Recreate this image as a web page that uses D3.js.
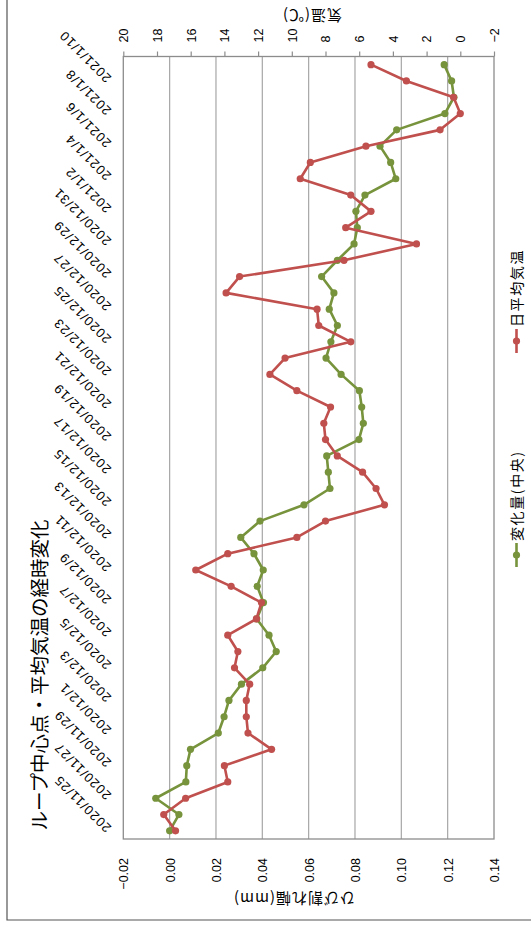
<!DOCTYPE html>
<html>
<head>
<meta charset="utf-8">
<script src="https://cdn.jsdelivr.net/npm/d3@7"></script>
<style>
  html, body { margin: 0; padding: 0; background: #fff; }
  svg { display: block; }
  .num { font-family: "Liberation Sans", Arial, sans-serif; fill: #000; }
  .jp { font-family: "Noto Sans CJK JP", "Noto Sans", sans-serif; fill: #000; }
</style>
</head>
<body>
<div id="chart"></div>
<script>
// Crack width at loop centre vs daily mean temperature (chart rotated 90 deg CCW).

const dates = [
  "2020/11/24", "2020/11/25", "2020/11/26", "2020/11/27", "2020/11/28", "2020/11/29", "2020/11/30",
  "2020/12/1", "2020/12/2", "2020/12/3", "2020/12/4", "2020/12/5", "2020/12/6", "2020/12/7",
  "2020/12/8", "2020/12/9", "2020/12/10", "2020/12/11", "2020/12/12", "2020/12/13", "2020/12/14",
  "2020/12/15", "2020/12/16", "2020/12/17", "2020/12/18", "2020/12/19", "2020/12/20", "2020/12/21",
  "2020/12/22", "2020/12/23", "2020/12/24", "2020/12/25", "2020/12/26", "2020/12/27", "2020/12/28",
  "2020/12/29", "2020/12/30", "2020/12/31", "2021/1/1", "2021/1/2", "2021/1/3", "2021/1/4",
  "2021/1/5", "2021/1/6", "2021/1/7", "2021/1/8", "2021/1/9", "2021/1/10"
];

// 変化量(中央), mm
const crack = [
  0.000, 0.004, -0.006, 0.007, 0.0074, 0.009, 0.021, 0.0235, 0.0256, 0.031, 0.0402, 0.046,
  0.0429, 0.0376, 0.0405, 0.0378, 0.0404, 0.0364, 0.0307, 0.039, 0.058, 0.0692, 0.0685, 0.0678,
  0.0817, 0.0836, 0.0829, 0.0819, 0.074, 0.0675, 0.0696, 0.0724, 0.0689, 0.0709, 0.0656, 0.0724,
  0.0796, 0.081, 0.0804, 0.0843, 0.0976, 0.0954, 0.0908, 0.098, 0.1188, 0.1227, 0.1217, 0.1185
];

// 日平均気温, deg C
const temp = [
  16.9, 17.6, 16.3, 13.8, 14.0, 11.2, 12.6, 12.7, 12.7, 12.5, 13.4, 13.2,
  13.8, 12.1, 11.8, 13.6, 15.7, 13.8, 9.7, 8.0, 4.5, 5.0, 5.8, 7.3,
  8.0, 8.1, 7.7, 9.7, 11.3, 10.4, 6.5, 8.4, 8.5, 13.9, 13.1, 6.9,
  2.6, 6.8, 5.3, 6.5, 9.5, 8.9, 5.6, 1.2, 0.0, 0.4, 3.2, 5.3
];

const mmTicks = [-0.02, 0, 0.02, 0.04, 0.06, 0.08, 0.10, 0.12, 0.14];
const tempTicks = [20, 18, 16, 14, 12, 10, 8, 6, 4, 2, 0, -2];

const GREEN = "#77933C", RED = "#C0504D";
const W = 531, H = 931;
const P = { l: 123.3, r: 494, t: 56.5, b: 839 };

const svg = d3.select("#chart").append("svg").attr("width", W).attr("height", H);

// outer chart frame (only left + bottom edges fall inside the picture)
svg.append("path").attr("d", `M7,0V920H${W}`).attr("fill", "none").attr("stroke", "#555").attr("stroke-width", 1.2);

const y = d3.scaleBand().domain(dates).range([P.b, P.t]);
const cy = (d) => y(d) + y.bandwidth() / 2;
const xMm = d3.scaleLinear().domain([-0.02, 0.14]).range([P.l, P.r]);
const xT = d3.scaleLinear().domain([20, -2]).range([P.l, P.r]);

// gridlines from the mm axis
svg.append("g").selectAll("line").data(mmTicks.slice(1, -1)).join("line")
  .attr("x1", (d) => xMm(d)).attr("x2", (d) => xMm(d))
  .attr("y1", P.t).attr("y2", P.b)
  .attr("stroke", "#a6a6a6").attr("stroke-width", 1.2);

svg.append("rect").attr("x", P.l).attr("y", P.t).attr("width", P.r - P.l).attr("height", P.b - P.t)
  .attr("fill", "none").attr("stroke", "#8c8c8c").attr("stroke-width", 1.3);

// bottom axis: crack width
const gB = svg.append("g").attr("transform", `translate(0,${P.b})`)
  .call(d3.axisBottom(xMm).tickValues(mmTicks).tickSize(0).tickFormat(d3.format(".2f")));
gB.select(".domain").remove();
gB.selectAll("text").attr("class", "num").style("font-size", "12.5px")
  .attr("transform", "rotate(-90)").attr("x", -19).attr("y", 0).attr("dy", "0.35em")
  .attr("text-anchor", "end");

// top axis: temperature
const gT = svg.append("g").attr("transform", `translate(0,${P.t})`)
  .call(d3.axisTop(xT).tickValues(tempTicks).tickSize(5).tickSizeOuter(0));
gT.select(".domain").remove();
gT.selectAll(".tick line").attr("stroke", "#8c8c8c").attr("stroke-width", 1.2);
gT.selectAll("text").attr("class", "num").style("font-size", "12.5px")
  .attr("transform", "rotate(-90)").attr("x", 14).attr("y", 0).attr("dy", "0.35em")
  .attr("text-anchor", "start");

// category labels, every second day
svg.append("g").selectAll("text").data(dates.filter((d, i) => i % 2 === 1)).join("text")
  .attr("class", "num").style("font-size", "13px").style("letter-spacing", "1px")
  .attr("transform", (d) => `translate(112,${cy(d) + 12.5}) rotate(-135)`)
  .attr("text-anchor", "start").text((d) => d);

// series
function series(vals, xs, color) {
  const pts = vals.map((v, i) => [xs(v), cy(dates[i])]);
  svg.append("path").datum(pts).attr("d", d3.line()).attr("fill", "none")
    .attr("stroke", color).attr("stroke-width", 2.6).attr("stroke-linejoin", "round");
  svg.append("g").selectAll("circle").data(pts).join("circle")
    .attr("cx", (p) => p[0]).attr("cy", (p) => p[1]).attr("r", 3.6).attr("fill", color);
}
series(crack, xMm, GREEN);
series(temp, xT, RED);

// titles
svg.append("text").attr("class", "jp").style("font-size", "19.5px")
  .attr("transform", "translate(40,675) rotate(-90)").attr("text-anchor", "middle").attr("dy", "0.35em")
  .text("ループ中心点・平均気温の経時変化");
svg.append("text").attr("class", "jp").style("font-size", "15px").style("letter-spacing", "1px")
  .attr("transform", "translate(294,898) rotate(180)").attr("text-anchor", "middle").attr("dy", "0.35em")
  .text("ひび割れ幅(mm)");
svg.append("text").attr("class", "jp").style("font-size", "15px").style("letter-spacing", "1px")
  .attr("transform", "translate(312,15) rotate(180)").attr("text-anchor", "middle").attr("dy", "0.35em")
  .text("気温(℃)");

// legend
const legend = [
  { name: "日平均気温", color: RED, y: 341 },
  { name: "変化量(中央)", color: GREEN, y: 555 }
];
const lg = svg.append("g").selectAll("g").data(legend).join("g");
lg.append("line").attr("x1", 516.5).attr("x2", 516.5)
  .attr("y1", (d) => d.y - 12).attr("y2", (d) => d.y + 12)
  .attr("stroke", (d) => d.color).attr("stroke-width", 2.6);
lg.append("circle").attr("cx", 516.5).attr("cy", (d) => d.y).attr("r", 3.6).attr("fill", (d) => d.color);
lg.append("text").attr("class", "jp").style("font-size", "14px").style("letter-spacing", "1.6px")
  .attr("transform", (d) => `translate(517,${d.y - 14}) rotate(-90)`).attr("dy", "0.35em")
  .text((d) => d.name);
</script>
</body>
</html>
